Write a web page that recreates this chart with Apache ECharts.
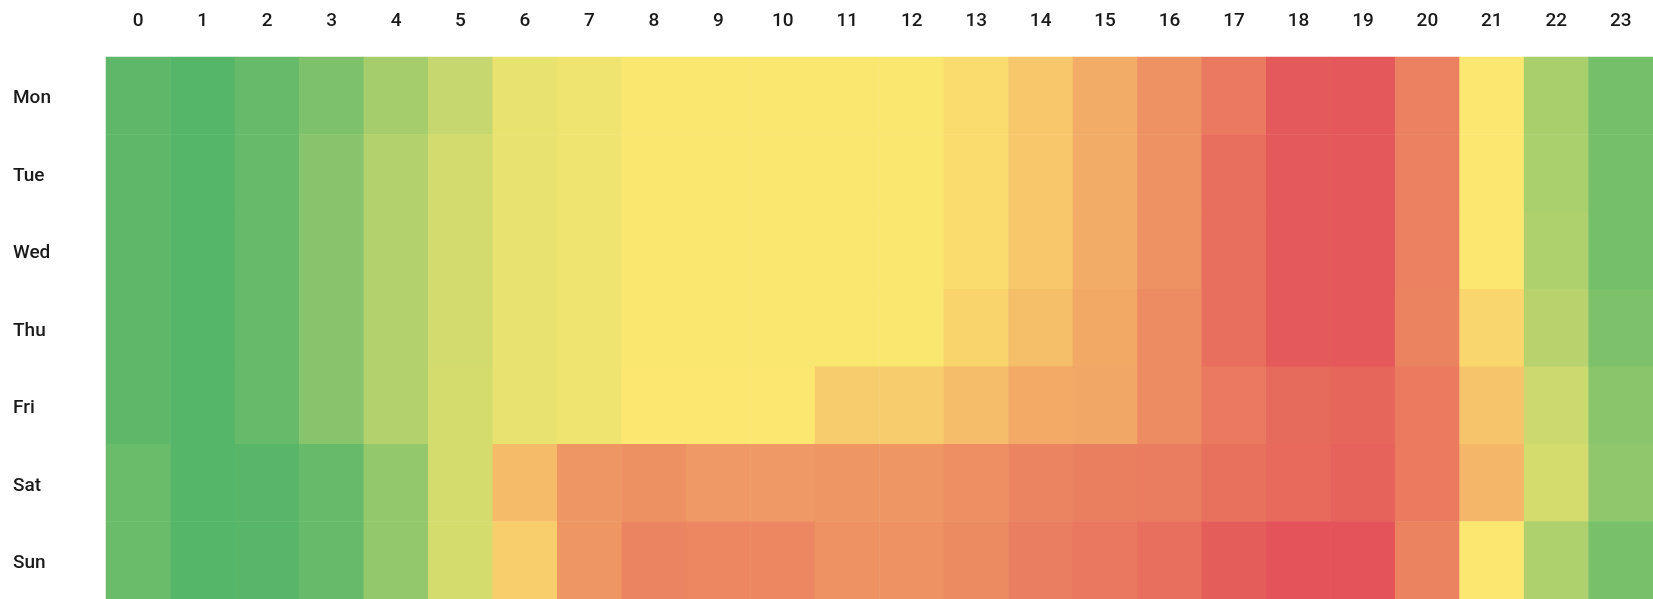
<!DOCTYPE html>
<html>
<head>
<meta charset="utf-8">
<script src="https://cdn.jsdelivr.net/npm/echarts@6/dist/echarts.min.js"></script>
<style>
html,body{margin:0;padding:0;background:#fff;}
#chart{width:1653px;height:599px;}
</style>
</head>
<body>
<div id="chart"></div>
<script>
const hours = ['0','1','2','3','4','5','6','7','8','9','10','11','12','13','14','15','16','17','18','19','20','21','22','23'];
const days = ['Mon','Tue','Wed','Thu','Fri','Sat','Sun'];
const mon = [3,0,5,12,24,33.5,44,46.5,49,49,49,49,49,54,60.7,70,79,87,98,98.5,84.5,50,25,10];
const tue = [3,0,5,15,28,37.5,44,46.5,49,49,49,49,49,54,60.7,70,79,90.5,98,98.5,84.5,50,25.5,10];
const wed = [3,0,5,15,28,37.5,44,46.5,49,49,49,49,49,54,60.7,70,79,90.5,98,98.5,84.5,50,27,10];
const thu = [3,0,5,15,28,37.5,44,46.5,49,49,49,49,49,56.7,63.7,71,81,91,98,98.5,84,55.7,29.6,12];
const fri = [3,0,5,15,28,38,44,46.5,50,50,50,59.3,59.3,64.3,70.7,71.7,81,87,92,93.7,86.7,62,35.3,16];
const sat = [6.6,0,1,5,19,38,65,77.3,79.3,76.3,76.3,77.3,77.3,80,83.3,85.3,86,90,92.3,94.7,86.7,66.7,38.3,18];
const sun = [6.6,0,1,5,19,38,59,77.3,83.3,82.7,82.7,79,79,81.7,85.7,87.7,91,96.7,100,100,84.3,50,26.7,10.5];
const rows = [mon,tue,wed,thu,fri,sat,sun];

const data = [];
rows.forEach((r, yi) => r.forEach((v, xi) => data.push([xi, yi, v])));

const chart = echarts.init(document.getElementById('chart'));
chart.setOption({
  animation: false,
  grid: {left: 106, right: 0, top: 57, bottom: 0},
  xAxis: {
    type: 'category', data: hours, position: 'top',
    axisLine: {show: false}, axisTick: {show: false}, splitLine: {show: false},
    axisLabel: {fontFamily: 'Roboto', fontSize: 19, fontWeight: 500, color: '#1a1a1a', margin: 26, interval: 0}
  },
  yAxis: {
    type: 'category', data: days, inverse: true,
    axisLine: {show: false}, axisTick: {show: false}, splitLine: {show: false},
    axisLabel: {
      align: 'left', margin: 93,
      formatter: '{d|{value}}',
      rich: {d: {fontFamily: 'Roboto', fontSize: 19, fontWeight: 500, color: '#1a1a1a', padding: [6, 0, 0, 0]}}
    }
  },
  visualMap: {
    show: false, min: 0, max: 100, calculable: false,
    inRange: {color: ['#55b569', '#fce870', '#e35359']}
  },
  series: [{
    type: 'heatmap', data: data,
    itemStyle: {borderWidth: 0},
    emphasis: {disabled: true}
  }]
});
</script>
</body>
</html>
